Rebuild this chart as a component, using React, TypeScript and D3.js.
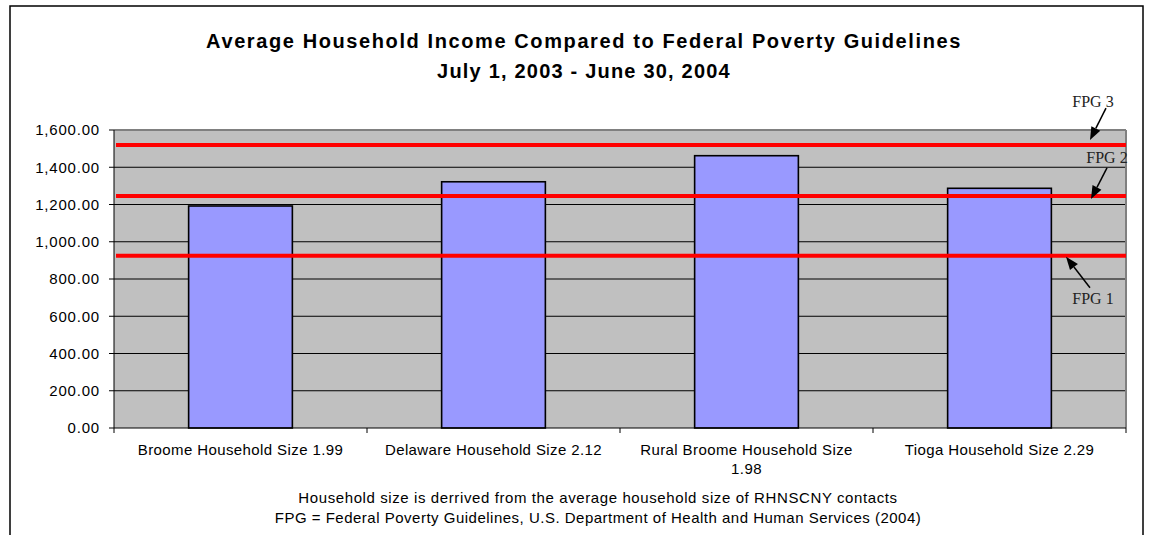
import React, { useMemo } from "react";
import * as d3 from "d3";

const categories = [
  "Broome Household Size 1.99",
  "Delaware Household Size 2.12",
  "Rural Broome Household Size 1.98",
  "Tioga Household Size 2.29",
];
const incomes = [1192, 1322, 1462, 1287];

const fpgLabels = ["FPG 1", "FPG 2", "FPG 3"];
const fpgValues = [925, 1246, 1519];

const yTicks = [0, 200, 400, 600, 800, 1000, 1200, 1400, 1600];

const titleLines = [
  "Average Household Income Compared to Federal Poverty Guidelines",
  "July 1, 2003 - June 30, 2004",
];
const footnotes = [
  "Household size is derrived from the average household size of RHNSCNY contacts",
  "FPG = Federal Poverty Guidelines, U.S. Department of Health and Human Services (2004)",
];

const SANS = "'Liberation Sans', Arial, sans-serif";
const SERIF = "'Liberation Serif', 'Times New Roman', serif";

// where each FPG note sits, relative to its line and the plot's right edge
const noteLayout = [
  { tx: -33, ty: 48, ax0: -36, ay0: 32, ax1: -60, ay1: 1 },
  { tx: -19, ty: -33, ax0: -19, ay0: -28, ax1: -35, ay1: 3 },
  { tx: -33, ty: -38, ax0: -20, ay0: -37, ax1: -36, ay1: -5 },
];

function wrapLabel(text: string, maxWidth: number, font: string, spacing: number) {
  const ctx = document.createElement("canvas").getContext("2d");
  if (!ctx) return [text];
  ctx.font = font;
  const words = text.split(" ");
  const lines: string[] = [];
  let line = "";
  words.forEach((w) => {
    const test = line ? line + " " + w : w;
    if (ctx.measureText(test).width + test.length * spacing > maxWidth && line) {
      lines.push(line);
      line = w;
    } else {
      line = test;
    }
  });
  if (line) lines.push(line);
  return lines;
}

function Arrow({ x0, y0, x1, y1 }: { x0: number; y0: number; x1: number; y1: number }) {
  const ang = Math.atan2(y1 - y0, x1 - x0);
  const len = 13;
  const half = 5;
  const bx = x1 - len * Math.cos(ang);
  const by = y1 - len * Math.sin(ang);
  const px = -Math.sin(ang) * half;
  const py = Math.cos(ang) * half;
  return (
    <g>
      <line x1={x0} y1={y0} x2={bx} y2={by} stroke="#000" strokeWidth={1.5} />
      <polygon points={`${x1},${y1} ${bx + px},${by + py} ${bx - px},${by - py}`} fill="#000" />
    </g>
  );
}

export default function App() {
  const width = 1150;
  const height = 535;
  const plot = { left: 114, right: 1126, top: 130, bottom: 428 };

  const xScale = useMemo(
    () => d3.scaleBand().domain(categories).range([plot.left, plot.right]).padding(0),
    []
  );
  const yScale = useMemo(
    () => d3.scaleLinear().domain([0, 1600]).range([plot.bottom, plot.top]),
    []
  );
  const barW = xScale.bandwidth() * 0.41;
  const fmt = d3.format(",.2f");
  const labelSize = 15;
  const labelSpacing = 0.4;

  return (
    <div style={{ position: "absolute", left: 0, top: 0 }}>
      <svg width={width} height={height} style={{ display: "block", fontFamily: SANS }}>
        <rect x={0} y={0} width={width} height={height} fill="#fff" />
        <rect x={10} y={6} width={1133} height={560} fill="none" stroke="#000" strokeWidth={1.5} />

        {titleLines.map((t, i) => (
          <text
            key={i}
            x={584}
            y={48 + i * 30}
            textAnchor="middle"
            fontSize={20}
            fontWeight="bold"
            letterSpacing={i === 0 ? 1.6 : 1.2}
          >
            {t}
          </text>
        ))}

        <rect
          x={plot.left}
          y={plot.top}
          width={plot.right - plot.left}
          height={plot.bottom - plot.top}
          fill="#c0c0c0"
        />
        {yTicks.slice(1, -1).map((v) => (
          <line key={v} x1={plot.left} x2={plot.right} y1={yScale(v)} y2={yScale(v)} stroke="#000" strokeWidth={1} />
        ))}
        <line x1={plot.left} x2={plot.right} y1={plot.top} y2={plot.top} stroke="#808080" strokeWidth={2} />
        <line x1={plot.right} x2={plot.right} y1={plot.top} y2={plot.bottom} stroke="#808080" strokeWidth={2} />

        {categories.map((c, i) => {
          const cx = (xScale(c) ?? 0) + xScale.bandwidth() / 2;
          return (
            <rect
              key={c}
              x={cx - barW / 2}
              y={yScale(incomes[i])}
              width={barW}
              height={yScale(0) - yScale(incomes[i])}
              fill="#9999ff"
              stroke="#000"
              strokeWidth={1.6}
            />
          );
        })}

        {fpgValues.map((v, i) => (
          <line key={i} x1={plot.left + 2} x2={plot.right} y1={yScale(v)} y2={yScale(v)} stroke="#ff0000" strokeWidth={4} />
        ))}

        {/* axes */}
        <line x1={plot.left} x2={plot.left} y1={plot.top} y2={plot.bottom} stroke="#000" strokeWidth={1} />
        <line x1={plot.left} x2={plot.right} y1={plot.bottom} y2={plot.bottom} stroke="#000" strokeWidth={1} />
        {yTicks.map((v) => (
          <g key={v}>
            <line x1={plot.left - 5} x2={plot.left} y1={yScale(v)} y2={yScale(v)} stroke="#000" />
            <text x={100} y={yScale(v)} dy="0.35em" textAnchor="end" fontSize={15} letterSpacing={0.8}>
              {fmt(v)}
            </text>
          </g>
        ))}
        {[...categories.map((c) => xScale(c) ?? 0), plot.right].map((x, i) => (
          <line key={i} x1={x} x2={x} y1={plot.bottom} y2={plot.bottom + 5} stroke="#000" />
        ))}
        {categories.map((c) => {
          const cx = (xScale(c) ?? 0) + xScale.bandwidth() / 2;
          const lines = wrapLabel(
            c,
            xScale.bandwidth() - 28,
            `${labelSize}px 'Liberation Sans'`,
            labelSpacing
          );
          return (
            <text key={c} x={cx} y={455} textAnchor="middle" fontSize={labelSize} letterSpacing={labelSpacing}>
              {lines.map((l, j) => (
                <tspan key={j} x={cx} dy={j === 0 ? 0 : 19}>
                  {l}
                </tspan>
              ))}
            </text>
          );
        })}

        {footnotes.map((f, i) => (
          <text
            key={i}
            x={598}
            y={503 + i * 20}
            textAnchor="middle"
            fontSize={labelSize}
            letterSpacing={i === 0 ? 0.6 : 0.5}
          >
            {f}
          </text>
        ))}

        {fpgValues.map((v, i) => {
          const y = yScale(v);
          const n = noteLayout[i];
          return (
            <g key={i}>
              <Arrow x0={plot.right + n.ax0} y0={y + n.ay0} x1={plot.right + n.ax1} y1={y + n.ay1} />
              <text
                x={plot.right + n.tx}
                y={y + n.ty}
                textAnchor="middle"
                fontFamily={SERIF}
                fontSize={16}
                fill="#222"
              >
                {fpgLabels[i]}
              </text>
            </g>
          );
        })}
      </svg>
    </div>
  );
}
